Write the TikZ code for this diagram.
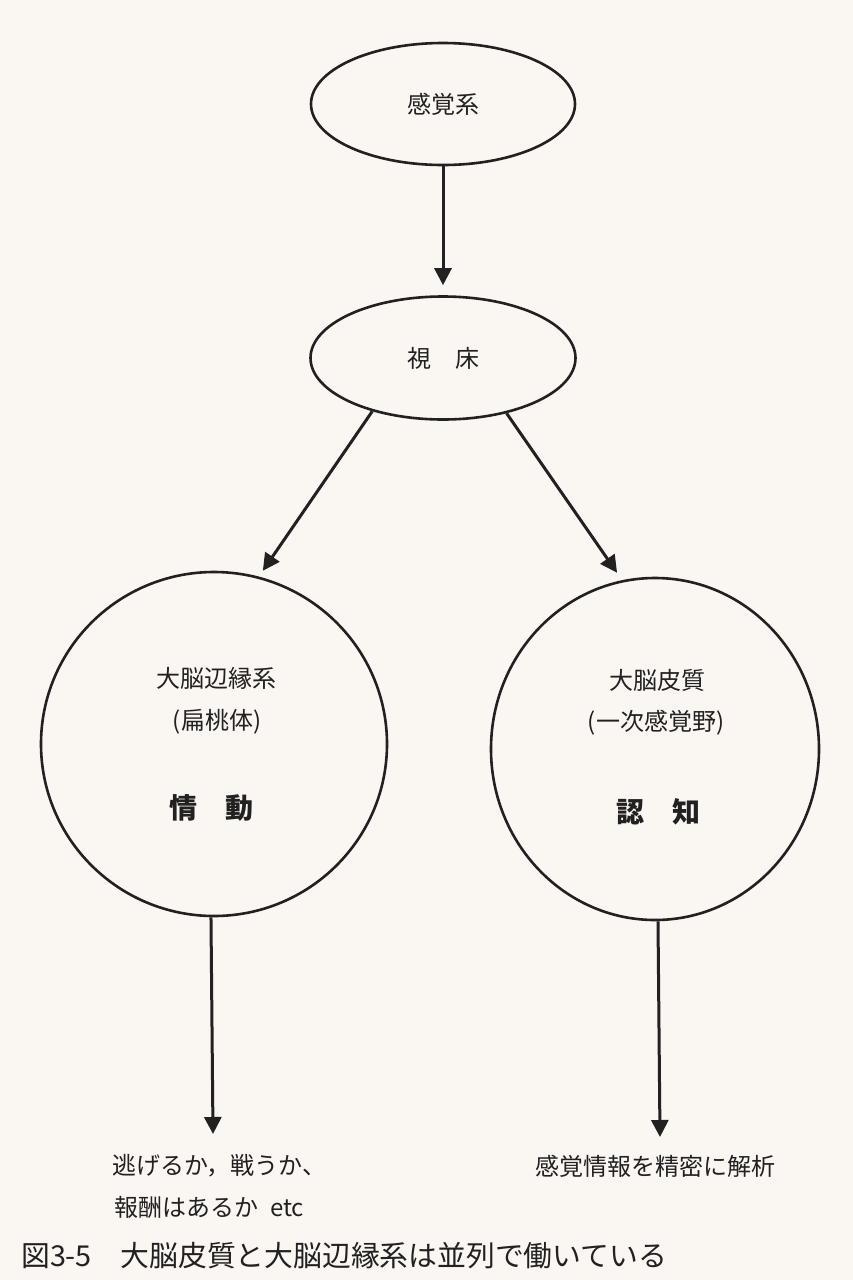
\documentclass[tikz,border=0pt]{standalone}
\usepackage{fontspec}
\setmainfont{Noto Sans CJK JP}
\usetikzlibrary{shapes.geometric,arrows.meta}
\definecolor{bg}{RGB}{250,246,242}
\definecolor{ink}{RGB}{34,32,32}
\tikzset{
  oval/.style={draw=ink, line width=2.6pt, ellipse, inner sep=0pt},
  lbl/.style={text=ink, font=\fontsize{24}{30}\selectfont, inner sep=0pt},
  big/.style={text=ink, font=\fontsize{28}{34}\selectfont\bfseries, inner sep=0pt},
  captext/.style={text=ink, font=\fontsize{28.8}{34}\selectfont, inner sep=0pt},
  arr/.style={draw=ink, line width=3pt, -{Triangle[length=17pt,width=17pt]}},
}
\begin{document}
\begin{tikzpicture}[x=1pt,y=-1pt]
\fill[bg] (0,0) rectangle (853,1280);
\useasboundingbox (0,0) rectangle (853,1280);
% ovals
\node[oval, lbl, minimum width=264pt, minimum height=122pt] (sens) at (443,104) {感覚系};
\node[oval, lbl, minimum width=265pt, minimum height=123pt] (thal) at (443,358) {視　床};
\node[oval, minimum width=346pt, minimum height=344pt] (limb) at (214,744) {};
\node[oval, minimum width=328pt, minimum height=342pt] (cort) at (655,749) {};
% circle texts
\node[lbl] (limbA) at (216,678) {大脳辺縁系};
\node[lbl] (limbB) at (217,722) {(扁桃体)};
\node[big] (limbC) at (211,808) {情　動};
\node[lbl] (cortA) at (657,680) {大脳皮質};
\node[lbl] (cortB) at (656,723) {(一次感覚野)};
\node[big] (cortC) at (658,812) {認　知};
% bottom texts
\node[lbl, anchor=west] (emo1) at (112,1166) {逃げるか，戦うか、};
\node[lbl, anchor=west] (emo2) at (114,1207) {報酬はあるか\hspace{12pt}etc};
\node[lbl, anchor=west] (cog1) at (535,1166) {感覚情報を精密に解析};
\node[captext, anchor=west] (caption) at (21,1256) {図3-5　大脳皮質と大脳辺縁系は並列で働いている};
% arrow ends
\coordinate (limbEnd) at (213,1134);
\coordinate (cortEnd) at (660,1137);
% connectors
\draw[arr, shorten >=10pt] (sens.south) -- (thal.north);
\draw[arr, shorten >=7pt] (thal.217) -- (limb.75.6);
\draw[arr, shorten >=9pt] (thal.319.8) -- (cort.101.8);
\draw[arr] (limb.269.7) -- (limbEnd);
\draw[arr] (cort.271.7) -- (cortEnd);
\end{tikzpicture}
\end{document}
